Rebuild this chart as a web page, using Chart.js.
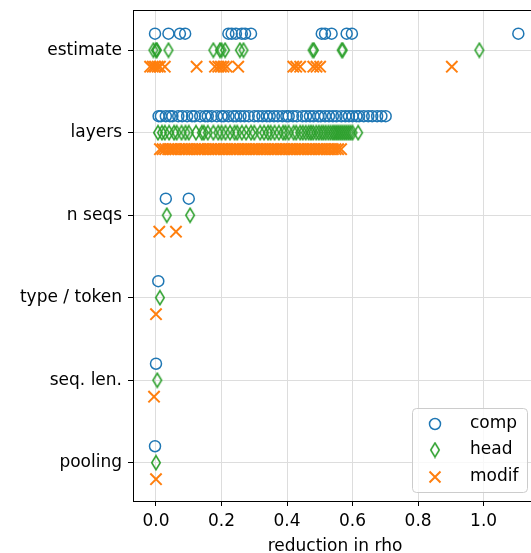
<!DOCTYPE html>
<html>
<head>
<meta charset="utf-8">
<script src="https://cdn.jsdelivr.net/npm/chart.js@4/dist/chart.umd.min.js"></script>
<style>
  html, body { margin: 0; padding: 0; background: #fff; overflow: hidden; }
  #wrap { width: 560px; height: 553px; }
  #myChart { width: 560px; height: 553px; }
</style>
</head>
<body>
<div id="wrap"><canvas id="myChart" width="560" height="553"></canvas></div>
<script>
// categories, bottom to top
const catLabels = ['pooling', 'seq. len.', 'type / token', 'n seqs', 'layers', 'estimate'];
const xTicks = [0, 0.2, 0.4, 0.6, 0.8, 1.0];

// comp
const compPooling = [-0.003];
const compSeqLen = [0.0];
const compTypeToken = [0.007];
const compNSeqs = [0.03, 0.10];
const compLayers = [0.008, 0.015, 0.03, 0.042, 0.05, 0.068, 0.08, 0.095, 0.11, 0.118, 0.135, 0.15, 0.158, 0.17, 0.186, 0.2, 0.207, 0.221, 0.236, 0.245, 0.258, 0.27, 0.283, 0.3, 0.312, 0.325, 0.338, 0.347, 0.36, 0.372, 0.386, 0.398, 0.405, 0.418, 0.43, 0.447, 0.458, 0.47, 0.481, 0.495, 0.503, 0.516, 0.528, 0.54, 0.551, 0.566, 0.578, 0.589, 0.6, 0.612, 0.62, 0.634, 0.648, 0.66, 0.675, 0.688, 0.701];
const compEstimate = [-0.003, 0.038, 0.073, 0.089, 0.221, 0.231, 0.244, 0.262, 0.272, 0.29, 0.506, 0.516, 0.536, 0.582, 0.598, 1.106];

// head
const headPooling = [0.0];
const headSeqLen = [0.004];
const headTypeToken = [0.012];
const headNSeqs = [0.033, 0.104];
const headLayers = [0.006, 0.018, 0.027, 0.04, 0.055, 0.063, 0.078, 0.09, 0.1, 0.122, 0.14, 0.146, 0.158, 0.175, 0.19, 0.2, 0.212, 0.226, 0.24, 0.248, 0.262, 0.275, 0.29, 0.3, 0.318, 0.33, 0.342, 0.35, 0.362, 0.375, 0.388, 0.395, 0.405, 0.42, 0.428, 0.44, 0.448, 0.457, 0.466, 0.473, 0.48, 0.489, 0.497, 0.505, 0.511, 0.518, 0.526, 0.533, 0.54, 0.546, 0.552, 0.558, 0.564, 0.57, 0.576, 0.582, 0.588, 0.594, 0.6, 0.617];
const headEstimate = [-0.008, 0.0, 0.003, 0.038, 0.175, 0.195, 0.2, 0.211, 0.256, 0.267, 0.478, 0.482, 0.567, 0.57, 0.987];

// modif
const modifPooling = [0.0];
const modifSeqLen = [-0.006];
const modifTypeToken = [0.0];
const modifNSeqs = [0.01, 0.061];
const modifLayers = [0.012, 0.02, 0.028, 0.037, 0.045, 0.052, 0.06, 0.069, 0.077, 0.086, 0.093, 0.101, 0.11, 0.118, 0.127, 0.134, 0.142, 0.15, 0.159, 0.167, 0.176, 0.183, 0.191, 0.2, 0.208, 0.216, 0.225, 0.233, 0.241, 0.249, 0.257, 0.266, 0.274, 0.282, 0.291, 0.299, 0.307, 0.315, 0.324, 0.332, 0.34, 0.349, 0.357, 0.365, 0.373, 0.382, 0.39, 0.398, 0.407, 0.415, 0.423, 0.432, 0.44, 0.448, 0.456, 0.465, 0.473, 0.481, 0.49, 0.498, 0.506, 0.514, 0.523, 0.531, 0.54, 0.548, 0.556, 0.565];
const modifEstimate = [-0.018, -0.01, -0.003, 0.005, 0.012, 0.027, 0.124, 0.18, 0.19, 0.198, 0.206, 0.216, 0.251, 0.419, 0.428, 0.44, 0.48, 0.49, 0.501, 0.903];

const compValues = [compPooling, compSeqLen, compTypeToken, compNSeqs, compLayers, compEstimate];
const headValues = [headPooling, headSeqLen, headTypeToken, headNSeqs, headLayers, headEstimate];
const modifValues = [modifPooling, modifSeqLen, modifTypeToken, modifNSeqs, modifLayers, modifEstimate];

const toPoints = (groups, offset) =>
  groups.flatMap((vals, i) => vals.map((x) => ({ x: x, y: i + offset })));

const BLUE = '#1f77b4';
const GREEN = '#2ca02c';
const ORANGE = '#ff7f0e';
const FONT = 'DejaVu Sans';

// thin diamond marker (matplotlib 'd')
const diamond = document.createElement('canvas');
diamond.width = 12;
diamond.height = 17;
(() => {
  const c = diamond.getContext('2d');
  c.strokeStyle = GREEN;
  c.lineWidth = 1.5;
  c.beginPath();
  c.moveTo(6, 1.5);
  c.lineTo(10.3, 8.5);
  c.lineTo(6, 15.5);
  c.lineTo(1.7, 8.5);
  c.closePath();
  c.stroke();
})();

const framePlugin = {
  id: 'frame',
  afterDatasetsDraw(chart) {
    const { ctx, chartArea: a } = chart;
    ctx.save();
    ctx.strokeStyle = '#000';
    ctx.lineWidth = 1;
    ctx.strokeRect(Math.round(a.left) + 0.5, Math.round(a.top) + 0.5,
      Math.round(a.right - a.left), Math.round(a.bottom - a.top));
    ctx.restore();
  },
};

const legendPlugin = {
  id: 'boxLegend',
  afterDraw(chart) {
    const ctx = chart.ctx;
    ctx.save();
    const x0 = 412.5, y0 = 408.5, w = 115, h = 84, r = 4;
    ctx.beginPath();
    ctx.moveTo(x0 + r, y0);
    ctx.arcTo(x0 + w, y0, x0 + w, y0 + h, r);
    ctx.arcTo(x0 + w, y0 + h, x0, y0 + h, r);
    ctx.arcTo(x0, y0 + h, x0, y0, r);
    ctx.arcTo(x0, y0, x0 + w, y0, r);
    ctx.closePath();
    ctx.fillStyle = 'rgba(255,255,255,0.8)';
    ctx.fill();
    ctx.strokeStyle = '#cccccc';
    ctx.lineWidth = 1;
    ctx.stroke();

    const mx = 435;
    // comp
    ctx.strokeStyle = BLUE;
    ctx.lineWidth = 1.5;
    ctx.beginPath();
    ctx.arc(mx, 424, 5.5, 0, Math.PI * 2);
    ctx.stroke();
    // head
    ctx.drawImage(diamond, mx - 6, 450 - 8.5);
    // modif
    ctx.strokeStyle = ORANGE;
    ctx.lineWidth = 2;
    ctx.beginPath();
    ctx.moveTo(mx - 5.5, 471.5);
    ctx.lineTo(mx + 5.5, 482.5);
    ctx.moveTo(mx + 5.5, 471.5);
    ctx.lineTo(mx - 5.5, 482.5);
    ctx.stroke();

    ctx.fillStyle = '#000';
    ctx.font = '17px "' + FONT + '"';
    ctx.textBaseline = 'middle';
    ctx.textAlign = 'left';
    ctx.fillText('comp', 470, 424);
    ctx.fillText('head', 470, 450);
    ctx.fillText('modif', 470, 477);
    ctx.restore();
  },
};

new Chart(document.getElementById('myChart'), {
  type: 'scatter',
  data: {
    datasets: [
      {
        label: 'comp',
        data: toPoints(compValues, 0.2),
        pointStyle: 'circle',
        pointRadius: 5.5,
        borderColor: BLUE,
        backgroundColor: 'rgba(0,0,0,0)',
        borderWidth: 1.5,
        order: 3,
      },
      {
        label: 'head',
        data: toPoints(headValues, 0),
        pointStyle: diamond,
        pointRadius: 6,
        borderColor: GREEN,
        backgroundColor: 'rgba(0,0,0,0)',
        order: 2,
      },
      {
        label: 'modif',
        data: toPoints(modifValues, -0.2),
        pointStyle: 'crossRot',
        pointRadius: 8,
        borderColor: ORANGE,
        backgroundColor: ORANGE,
        borderWidth: 2,
        order: 1,
      },
    ],
  },
  options: {
    responsive: false,
    animation: false,
    events: [],
    layout: { padding: { left: 0, top: 10, right: 23, bottom: 0 } },
    plugins: {
      legend: { display: false },
      tooltip: { enabled: false },
      title: { display: false },
    },
    scales: {
      x: {
        type: 'linear',
        min: -0.0702,
        max: 1.163,
        afterBuildTicks: (axis) => {
          axis.ticks = xTicks.map((v) => ({ value: v }));
        },
        afterFit: (axis) => {
          axis.height = 52;
          axis.paddingLeft = 0;
          axis.paddingRight = 0;
        },
        grid: { color: '#dddddd', lineWidth: 1, tickColor: '#000', tickLength: 5 },
        border: { display: false },
        ticks: {
          color: '#000',
          font: { family: FONT, size: 17 },
          padding: 5,
          maxRotation: 0,
          callback: (v) => v.toFixed(1),
        },
        title: {
          display: true,
          text: 'reduction in rho',
          color: '#000',
          font: { family: FONT, size: 17, lineHeight: 0.8 },
          padding: { top: 0, bottom: 0 },
        },
      },
      y: {
        type: 'linear',
        min: -0.464,
        max: 5.487,
        afterBuildTicks: (axis) => {
          axis.ticks = catLabels.map((_, i) => ({ value: i }));
        },
        afterFit: (axis) => {
          axis.width = 133;
          axis.paddingTop = 0;
          axis.paddingBottom = 0;
        },
        grid: { color: '#dddddd', lineWidth: 1, tickColor: '#000', tickLength: 5 },
        border: { display: false },
        ticks: {
          color: '#000',
          font: { family: FONT, size: 17 },
          padding: 6,
          callback: (v) => catLabels[v],
        },
      },
    },
  },
  plugins: [framePlugin, legendPlugin],
});
</script>
</body>
</html>
